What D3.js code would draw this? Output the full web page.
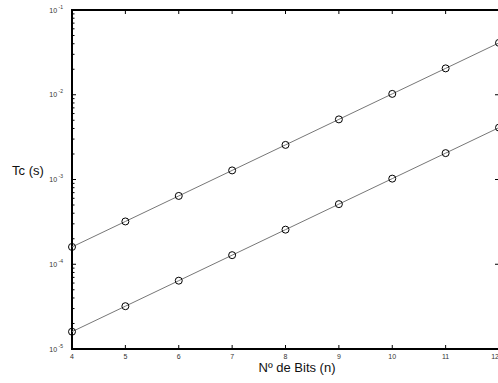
<!DOCTYPE html>
<html>
<head>
<meta charset="utf-8">
<script src="https://cdn.jsdelivr.net/npm/d3@7"></script>
<style>
  html, body { margin: 0; padding: 0; background: #fff; }
  svg { display: block; font-family: "Liberation Sans", Arial, sans-serif; }
</style>
</head>
<body>
<svg id="chart" width="498" height="383"></svg>
<script>
// Conversion time vs. number of bits
const bits = [4, 5, 6, 7, 8, 9, 10, 11, 12];
const tcSlow = [1.6e-4, 3.2e-4, 6.4e-4, 1.28e-3, 2.56e-3, 5.12e-3, 1.024e-2, 2.048e-2, 4.096e-2];
const tcFast = [1.6e-5, 3.2e-5, 6.4e-5, 1.28e-4, 2.56e-4, 5.12e-4, 1.024e-3, 2.048e-3, 4.096e-3];
const xTicks = [4, 5, 6, 7, 8, 9, 10, 11, 12];
const yDecades = [-5, -4, -3, -2, -1];

const svg = d3.select("#chart");
const plotL = 72, plotR = 499, plotT = 10, plotB = 349;

const x = d3.scaleLinear().domain([4, 12]).range([plotL, plotR]);
const y = d3.scaleLog().domain([1e-5, 1e-1]).range([plotB, plotT]);

// minor ticks on the left axis (2..9 within each decade)
const minor = [];
yDecades.slice(0, -1).forEach(e => {
  for (let k = 2; k <= 9; k++) minor.push(k * Math.pow(10, e));
});

const g = svg.append("g");

g.selectAll("line.minor").data(minor).join("line")
  .attr("x1", plotL).attr("x2", plotL + 2.5)
  .attr("y1", d => y(d)).attr("y2", d => y(d))
  .attr("stroke", "#000").attr("stroke-width", 1);

g.selectAll("line.ymaj").data(yDecades).join("line")
  .attr("x1", plotL).attr("x2", plotL + 4)
  .attr("y1", d => y(Math.pow(10, d))).attr("y2", d => y(Math.pow(10, d)))
  .attr("stroke", "#000").attr("stroke-width", 1);

g.selectAll("line.yright").data(yDecades).join("line")
  .attr("x1", plotR).attr("x2", plotR - 4)
  .attr("y1", d => y(Math.pow(10, d))).attr("y2", d => y(Math.pow(10, d)))
  .attr("stroke", "#000").attr("stroke-width", 1);

// x ticks bottom and top
g.selectAll("line.xb").data(xTicks).join("line")
  .attr("x1", d => x(d)).attr("x2", d => x(d))
  .attr("y1", plotB).attr("y2", plotB - 4)
  .attr("stroke", "#000").attr("stroke-width", 1);
g.selectAll("line.xt").data(xTicks).join("line")
  .attr("x1", d => x(d)).attr("x2", d => x(d))
  .attr("y1", plotT).attr("y2", plotT + 4)
  .attr("stroke", "#000").attr("stroke-width", 1);

// frame
g.append("rect")
  .attr("x", plotL).attr("y", plotT)
  .attr("width", plotR - plotL).attr("height", plotB - plotT)
  .attr("fill", "none").attr("stroke", "#000").attr("stroke-width", 2);

// y tick labels 10^e
const yl = g.selectAll("text.yl").data(yDecades).join("text")
  .attr("x", plotL - 9).attr("y", d => y(Math.pow(10, d)) + 2.5)
  .attr("text-anchor", "end")
  .attr("font-size", 7).attr("fill", "#333");
yl.append("tspan").text("10");
yl.append("tspan").attr("dy", -4).attr("font-size", 5).text(d => "\u00a0" + d);

// x tick labels (the last one sits on the clipped right edge)
g.selectAll("text.xl").data(xTicks).join("text")
  .attr("x", d => x(d)).attr("y", plotB + 10)
  .attr("text-anchor", d => d === 12 ? "end" : "middle")
  .attr("font-size", 7).attr("fill", "#333")
  .text(d => d);

// series
const line = d3.line().x((d, i) => x(bits[i])).y(d => y(d));
[tcSlow, tcFast].forEach(s => {
  g.append("path").datum(s)
    .attr("d", line)
    .attr("fill", "none").attr("stroke", "#777").attr("stroke-width", 1);
  g.selectAll(null).data(s).join("circle")
    .attr("cx", (d, i) => x(bits[i])).attr("cy", d => y(d))
    .attr("r", 3.5)
    .attr("fill", "none").attr("stroke", "#000").attr("stroke-width", 1);
});

// axis titles
svg.append("text")
  .attr("x", 297).attr("y", 372)
  .attr("text-anchor", "middle").attr("font-size", 13).attr("fill", "#111")
  .text("Nº de Bits (n)");
svg.append("text")
  .attr("x", 28).attr("y", 175)
  .attr("text-anchor", "middle").attr("font-size", 13).attr("fill", "#111")
  .text("Tc (s)");
</script>
</body>
</html>
